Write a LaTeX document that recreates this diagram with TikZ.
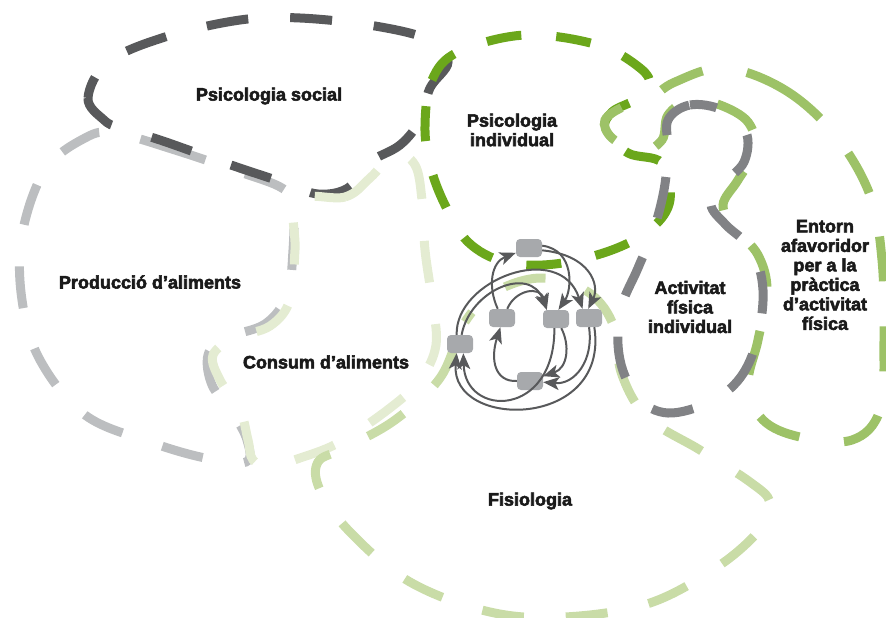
\documentclass[tikz,border=0pt]{standalone}
\usepackage{fontspec}
\setmainfont{Liberation Sans}[BoldFeatures={FakeBold=3}]
\usetikzlibrary{arrows.meta,positioning}
\definecolor{socgray}{HTML}{58595B}
\definecolor{prodgray}{HTML}{BCBEC0}
\definecolor{actigray}{HTML}{818285}
\definecolor{indgreen}{HTML}{6BA71B}
\definecolor{entgreen}{HTML}{9DC267}
\definecolor{fisgreen}{HTML}{C9DCA7}
\definecolor{congreen}{HTML}{E4ECD2}
\definecolor{boxgray}{HTML}{A7A9AC}
\definecolor{darktext}{HTML}{1A1A1A}

\begin{document}
\begin{tikzpicture}[x=1pt, y=-1pt,
  blob/.style={line width=9pt, dash pattern=on 42pt off 42pt},
  box/.style={rectangle, rounded corners=4pt, fill=boxgray,
              minimum width=26pt, minimum height=18pt, inner sep=0pt},
  link/.style={-{Stealth[length=16pt, width=13pt, inset=4pt]}, line width=2pt, color=socgray},
  areatext/.style={font=\bfseries\fontsize{18}{19.5}\selectfont, text=darktext, align=center},
]
  \useasboundingbox (0,0) rectangle (886,618);

  % the areas
  \draw[blob, prodgray, dash phase=10pt] plot[smooth cycle, tension=0.6] coordinates {
    (115,133) (175,150) (240,172) (282,188) (293,205) (293,250) (287,295) (265,324)
    (225,338) (208,355) (212,385) (232,412) (247,440) (246,462) (205,458) (150,442)
    (85,415) (40,360) (22,300) (22,235) (45,170) (85,138)};
  \draw[blob, socgray, dash phase=20pt] plot[smooth cycle, tension=0.6] coordinates {
    (104,120) (88,98) (108,62) (165,37) (240,20) (300,18) (375,26) (430,40) (448,62)
    (430,88) (420,120) (400,145) (368,163) (348,188) (318,194) (285,183) (225,163)
    (160,140) (120,128)};
  \draw[blob, congreen, dash phase=0pt] plot[smooth cycle, tension=0.6] coordinates {
    (297,200) (345,197) (370,178) (395,154) (415,165) (422,200) (425,250) (432,300)
    (436,345) (420,380) (390,408) (340,442) (300,458) (270,466) (253,460) (248,440)
    (240,410) (220,380) (213,355) (235,338) (270,326) (290,300) (295,250)};
  \draw[blob, fisgreen, dash phase=30pt] plot[smooth cycle, tension=0.6] coordinates {
    (440,378) (465,322) (495,292) (540,278) (585,290) (612,322) (622,375) (648,418)
    (700,450) (750,482) (770,502) (762,527) (720,565) (650,603) (565,617) (490,612)
    (410,582) (350,532) (320,490) (318,462) (345,448) (395,420)};
  \draw[blob, indgreen, dash pattern=on 35pt off 35pt] plot[smooth cycle, tension=0.6] coordinates {
    (425,125) (432,80) (458,52) (525,35) (598,45) (640,68) (650,86) (635,100)
    (612,112) (605,130) (628,153) (662,163) (670,200) (652,228) (612,250) (555,264)
    (505,262) (468,242) (445,205) (430,165)};
  \draw[blob, entgreen, dash pattern=on 45pt off 45pt] plot[smooth cycle, tension=0.6] coordinates {
    (725,68) (785,90) (835,135) (870,195) (882,260) (884,340) (880,410) (852,440)
    (800,437) (763,420) (748,385) (758,340) (767,290) (758,255) (735,228) (723,205)
    (738,180) (755,150) (748,122) (720,105) (690,100) (668,115) (662,140) (640,152)
    (612,138) (605,120) (625,106) (648,100) (675,82)};
  \draw[blob, actigray, dash phase=15pt] plot[smooth cycle, tension=0.6] coordinates {
    (668,120) (690,105) (722,110) (746,132) (744,162) (722,185) (711,205) (726,225)
    (752,250) (763,290) (757,340) (740,378) (710,402) (668,413) (638,398) (620,360)
    (620,312) (638,268) (653,232) (664,190) (668,150)};

  % labels of the areas
  \node[areatext] (social) at (269,96) {Psicologia social};
  \node[areatext] (individual) at (512,130) {Psicologia\\individual};
  \node[areatext] (produccio) at (150,282) {Producció d’aliments};
  \node[areatext] (consum) at (326,362) {Consum d’aliments};
  \node[areatext] (activitat) at (690,307) {Activitat\\física\\individual};
  \node[areatext] (entorn) at (825,275) {Entorn\\afavoridor\\per a la\\pràctica\\d’activitat\\física};
  \node[areatext] (fisiologia) at (530,501) {Fisiologia};

  % small network in the middle
  \node[box] (ntop) at (529,248) {};
  \node[box] (nmidl) at (502,318) {};
  \node[box] (nmidc) at (556,319) {};
  \node[box] (nmidr) at (589,318) {};
  \node[box] (nleft) at (460,344) {};
  \node[box] (nbot) at (530,381) {};

  \draw[link] (nmidl.115) .. controls (487,285) and (492,262) .. (ntop.200);
  \draw[link] (ntop.10) .. controls (575,250) and (572,290) .. (nmidc.75);
  \draw[link] (ntop.-10) .. controls (590,255) and (600,285) .. (nmidr.95);
  \draw[link] (nleft.110) .. controls (455,280) and (560,240) .. (nmidr.125);
  \draw[link] (nleft.80) .. controls (470,290) and (530,265) .. (nmidc.135);
  \draw[link] (nmidl.60) .. controls (515,290) and (540,285) .. (nmidc.135);
  \draw[link] (nmidc.-60) .. controls (570,345) and (568,368) .. (nbot.20);
  \draw[link] (nmidr.-90) .. controls (594,360) and (575,385) .. (nbot.-5);
  \draw[link] (nmidc.-100) .. controls (555,418) and (465,418) .. (nleft.-70);
  \draw[link] (nmidr.-60) .. controls (610,430) and (450,430) .. (nleft.-110);
  \draw[link] (nbot.west) .. controls (495,382) and (490,360) .. (nmidl.-100);
\end{tikzpicture}
\end{document}
